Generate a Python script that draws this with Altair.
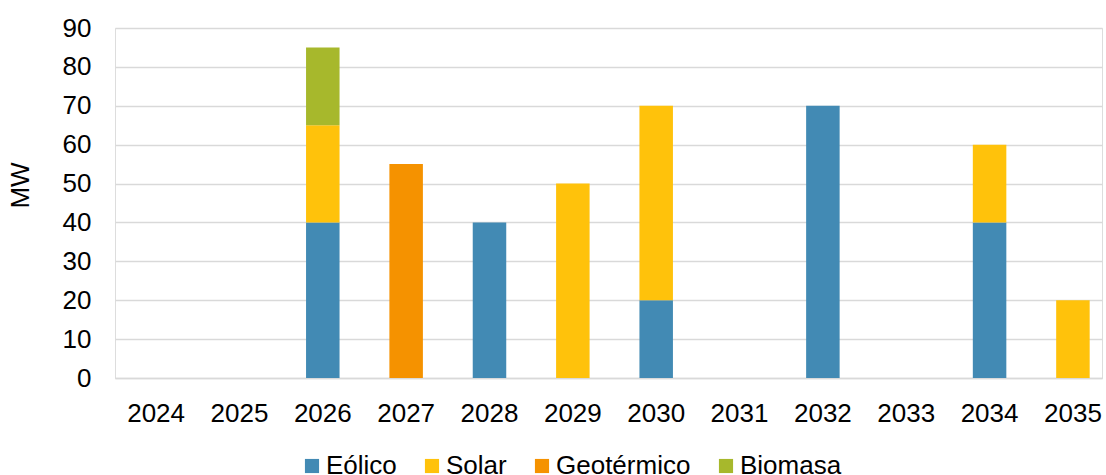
import altair as alt
import pandas as pd

# Capacidad a instalar por año y tecnología (MW)
years = ["2024", "2025", "2026", "2027", "2028", "2029",
         "2030", "2031", "2032", "2033", "2034", "2035"]
techs = ["Eólico", "Solar", "Geotérmico", "Biomasa"]
colors = ["#428AB4", "#FFC20B", "#F59200", "#A7B82C"]

eolico = [0, 0, 40, 0, 40, 0, 20, 0, 70, 0, 40, 0]
solar = [0, 0, 25, 0, 0, 50, 50, 0, 0, 0, 20, 20]
geotermico = [0, 0, 0, 55, 0, 0, 0, 0, 0, 0, 0, 0]
biomasa = [0, 0, 20, 0, 0, 0, 0, 0, 0, 0, 0, 0]

series = dict(zip(techs, [eolico, solar, geotermico, biomasa]))
rows = []
for t_idx, t in enumerate(techs):
    for y, v in zip(years, series[t]):
        if v > 0:
            rows.append({"Año": y, "Tecnología": t, "MW": v, "orden": t_idx})
df = pd.DataFrame(rows)

FONT = "Liberation Sans"

chart = (
    alt.Chart(df)
    .mark_bar()
    .encode(
        x=alt.X(
            "Año:N",
            scale=alt.Scale(domain=years, paddingInner=0.598,
                            paddingOuter=0.22, align=0.664),
            axis=alt.Axis(title=None, labelAngle=0, ticks=False,
                          labelPadding=22, labelFontSize=26, labelFont=FONT,
                          labelColor="#000000", domainColor="#d9d9d9",
                          domainWidth=1.5, grid=False),
        ),
        y=alt.Y(
            "MW:Q",
            stack="zero",
            scale=alt.Scale(domain=[0, 90], nice=False),
            axis=alt.Axis(values=list(range(0, 91, 10)), title="MW",
                          titleFont=FONT, titleFontSize=26,
                          titleFontWeight="normal", titleColor="#000000",
                          titleX=-95, titleY=157, titleBaseline="middle",
                          domain=False, ticks=False, labelPadding=24,
                          labelFontSize=26, labelFont=FONT,
                          labelColor="#000000", gridColor="#d9d9d9",
                          gridWidth=1.5),
        ),
        color=alt.Color(
            "Tecnología:N",
            scale=alt.Scale(domain=techs, range=colors),
            legend=alt.Legend(
                title=None, orient="none", direction="horizontal",
                legendX=184, legendY=425, columns=4,
                symbolType="square", symbolSize=200, symbolStrokeWidth=0,
                symbolOpacity=1, labelFont=FONT, labelFontSize=26,
                labelColor="#000000", labelOffset=1, columnPadding=22,
                padding=0,
            ),
        ),
        order=alt.Order("orden:Q", sort="ascending"),
    )
    .properties(
        width=987,
        height=350,
        autosize=alt.AutoSizeParams(type="none"),
        padding={"left": 115, "top": 28, "right": 4, "bottom": 97},
    )
    .configure_view(stroke=None)
    .configure(background="#ffffff")
)

chart.save("out.html", embed_options={"renderer": "svg", "actions": False})
